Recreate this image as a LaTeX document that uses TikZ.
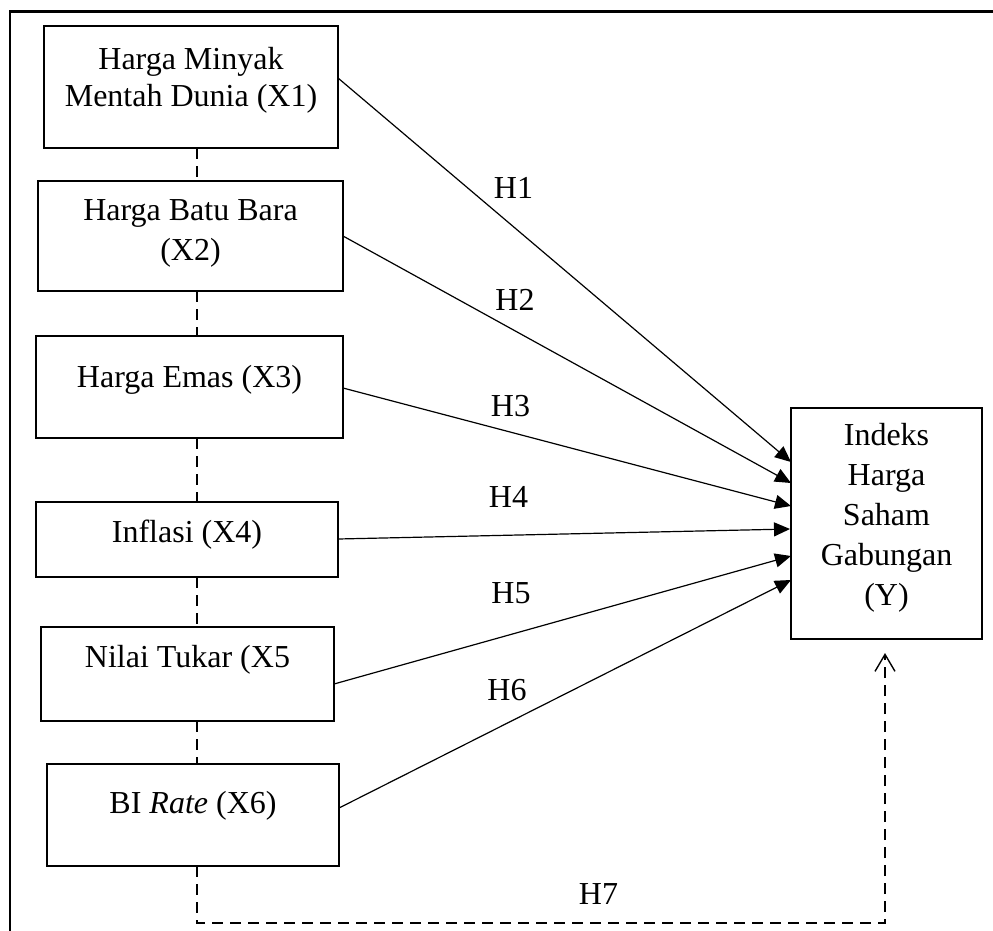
\documentclass[tikz,border=0pt]{standalone}
\usepackage{fontspec}
\setmainfont{Liberation Serif}
\usetikzlibrary{arrows.meta,calc}
\begin{document}
\begin{tikzpicture}[x=1pt,y=-1pt,
  box/.style={draw, line width=2.4pt, inner sep=0pt, outer sep=0pt},
  txt/.style={anchor=base, inner sep=0pt, align=center, font=\fontsize{32}{40}\selectfont},
  hlab/.style={anchor=base, inner sep=0pt, font=\fontsize{32}{40}\selectfont},
  link/.style={line width=1.2pt, -{Triangle[length=16pt,width=14pt]}},
  dashline/.style={line width=2.3pt, dash pattern=on 11pt off 7pt},
]
\useasboundingbox (0,0) rectangle (993,931);
% outer frame
\draw[line width=2.6pt] (10,931) -- (10,11.5) -- (993,11.5);
% boxes
\node[box, minimum width=294pt, minimum height=122pt] (x1) at (191,87) {};
\node[box, minimum width=305pt, minimum height=110pt] (x2) at (190.5,236) {};
\node[box, minimum width=307pt, minimum height=102pt] (x3) at (189.5,387) {};
\node[box, minimum width=302pt, minimum height=75pt] (x4) at (187,539.5) {};
\node[box, minimum width=293pt, minimum height=94pt] (x5) at (187.5,674) {};
\node[box, minimum width=292pt, minimum height=102pt] (x6) at (193,815) {};
\node[box, minimum width=191pt, minimum height=231pt] (y) at (886.5,523.5) {};
% texts (base anchor = last line baseline)
\node[txt, font=\fontsize{32}{37}\selectfont] (t1) at (191,107) {Harga Minyak\\Mentah Dunia (X1)};
\node[txt] (t2) at (190.5,260) {Harga Batu Bara\\(X2)};
\node[txt] (t3) at (189.5,387) {Harga Emas (X3)};
\node[txt] (t4) at (187,542) {Inflasi (X4)};
\node[txt] (t5) at (187.5,667) {Nilai Tukar (X5};
\node[txt] (t6) at (193,813) {BI \textit{Rate} (X6)};
\node[txt] (ty) at (886.5,605) {Indeks\\Harga\\Saham\\Gabungan\\(Y)};
% arrows
\draw[link] ($(x1.north east)+(0,52)$) -- ($(y.north west)+(0,54)$);
\draw[link] ($(x2.north east)+(0,55)$) -- ($(y.north west)+(0,75)$);
\draw[link] ($(x3.north east)+(0,52)$) -- ($(y.north west)+(0,98)$);
\draw[link] ($(x4.north east)+(0,37)$) -- ($(y.north west)+(-1,121)$);
\draw[link] ($(x5.north east)+(0,57)$) -- ($(y.north west)+(0,148)$);
\draw[link] ($(x6.north east)+(0,44)$) -- ($(y.north west)+(0,172)$);
% labels
\node[hlab] (h1) at (513.5,198) {H1};
\node[hlab] (h2) at (515,310) {H2};
\node[hlab] (h3) at (510.5,416) {H3};
\node[hlab] (h4) at (508.5,507) {H4};
\node[hlab] (h5) at (511,603) {H5};
\node[hlab] (h6) at (507,700) {H6};
\node[hlab] (h7) at (598.5,904) {H7};
% dashed links
\coordinate (dx) at (197,0);
\draw[dashline] (x1.south -| dx) -- (x2.north -| dx);
\draw[dashline] (x2.south -| dx) -- (x3.north -| dx);
\draw[dashline] (x3.south -| dx) -- (x4.north -| dx);
\draw[dashline] (x4.south -| dx) -- (x5.north -| dx);
\draw[dashline] (x5.south -| dx) -- (x6.north -| dx);
\coordinate (c1) at (197,923);
\coordinate (c2) at (885,923);
\coordinate (c3) at (885,653);
\draw[dashline, -{Straight Barb[length=17pt,width=20pt,line width=1.4pt]}] (x6.south -| dx) -- (c1) -- (c2) -- (c3);
\end{tikzpicture}
\end{document}
